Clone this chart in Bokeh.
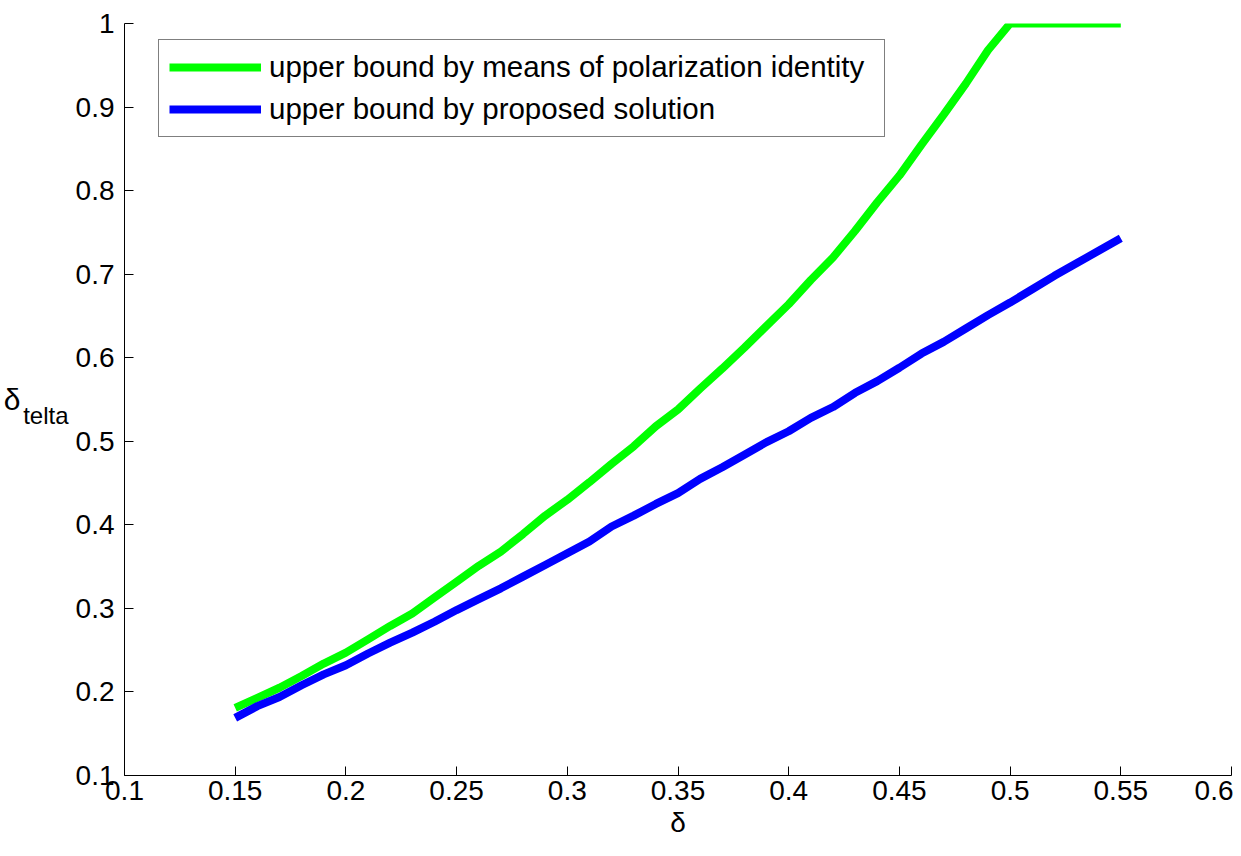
from bokeh.plotting import figure
from bokeh.models import FixedTicker, Range1d, Legend, LegendItem, LinearAxis
from bokeh.embed import file_html
from bokeh.resources import INLINE

delta = [0.15, 0.16, 0.17, 0.18, 0.19, 0.20, 0.21, 0.22, 0.23, 0.24, 0.25,
         0.26, 0.27, 0.28, 0.29, 0.30, 0.31, 0.32, 0.33, 0.34, 0.35, 0.36,
         0.37, 0.38, 0.39, 0.40, 0.41, 0.42, 0.43, 0.44, 0.45, 0.46, 0.47,
         0.48, 0.49, 0.50, 0.51, 0.52, 0.53, 0.54, 0.55]
polarization = [0.181, 0.193, 0.205, 0.219, 0.234, 0.247, 0.263, 0.279, 0.294, 0.313, 0.332,
                0.351, 0.368, 0.389, 0.411, 0.430, 0.451, 0.473, 0.494, 0.518, 0.538, 0.563,
                0.587, 0.612, 0.638, 0.664, 0.693, 0.720, 0.752, 0.786, 0.818, 0.855, 0.891,
                0.928, 0.968, 1.0, 1.0, 1.0, 1.0, 1.0, 1.0]
proposed = [0.169, 0.183, 0.194, 0.208, 0.221, 0.232, 0.246, 0.259, 0.271, 0.284, 0.298,
            0.311, 0.324, 0.338, 0.352, 0.366, 0.380, 0.398, 0.411, 0.425, 0.438, 0.455,
            0.469, 0.484, 0.499, 0.512, 0.528, 0.541, 0.558, 0.572, 0.588, 0.605, 0.619,
            0.635, 0.651, 0.666, 0.682, 0.698, 0.713, 0.728, 0.743]

x_ticks = [0.1, 0.15, 0.2, 0.25, 0.3, 0.35, 0.4, 0.45, 0.5, 0.55, 0.6]
x_tick_labels = ["0.1", "0.15", "0.2", "0.25", "0.3", "0.35", "0.4", "0.45", "0.5", "0.55", "0.6"]
y_ticks = [0.1, 0.2, 0.3, 0.4, 0.5, 0.6, 0.7, 0.8, 0.9, 1.0]
y_tick_labels = ["0.1", "0.2", "0.3", "0.4", "0.5", "0.6", "0.7", "0.8", "0.9", "1"]

series_names = ["upper bound by means of polarization identity", "upper bound by proposed solution"]
series_colors = ["#00ff00", "#0000ff"]

FONT = "Liberation Sans"
NB = "\u00a0"

p = figure(width=1233, height=840, output_backend="svg", toolbar_location=None,
           x_range=Range1d(0.1, 0.6), y_range=Range1d(0.1, 1.0),
           min_border_left=124, min_border_right=2, min_border_top=23, min_border_bottom=64)
p.outline_line_color = None
p.grid.visible = False
p.background_fill_color = "white"
p.border_fill_color = "white"

for ax, ticks, labels in [(p.xaxis[0], x_ticks, x_tick_labels), (p.yaxis[0], y_ticks, y_tick_labels)]:
    ax.ticker = FixedTicker(ticks=ticks)
    ax.major_label_overrides = {t: l for t, l in zip(ticks, labels)}
    ax.major_tick_in = 9
    ax.major_tick_out = 0
    ax.minor_tick_line_color = None
    ax.axis_line_color = "black"
    ax.major_tick_line_color = "black"
    ax.major_label_text_font = FONT
    ax.major_label_text_font_size = "28px"
    ax.major_label_text_color = "black"
    ax.axis_label_text_font = FONT
    ax.axis_label_text_font_style = "normal"
    ax.axis_label_text_color = "black"

p.xaxis.major_label_standoff = 5
p.xaxis.axis_label = "δ"
p.xaxis.axis_label_text_font_size = "28px"
p.xaxis.axis_label_standoff = 4

# y-axis title: δ with subscript "telta" (written horizontally)
p.yaxis.major_label_standoff = 10
p.yaxis.axis_label = NB + "\ntelta"
p.yaxis.axis_label_text_font_size = "24px"
p.yaxis.axis_label_standoff = 4
p.yaxis.axis_label_orientation = "horizontal"

yaxis2 = LinearAxis(ticker=FixedTicker(ticks=[]), axis_line_color=None,
                    major_tick_line_color=None, minor_tick_line_color=None,
                    major_label_text_font_size="0px",
                    axis_label="δ", axis_label_standoff=0,
                    axis_label_text_font=FONT, axis_label_text_font_size="30px",
                    axis_label_text_font_style="normal", axis_label_text_color="black",
                    axis_label_orientation="horizontal")
p.add_layout(yaxis2, "left")

r1 = p.line(delta, polarization, line_color=series_colors[0], line_width=8)
r2 = p.line(delta, proposed, line_color=series_colors[1], line_width=8)

legend = Legend(items=[LegendItem(label=series_names[0], renderers=[r1]),
                       LegendItem(label=series_names[1], renderers=[r2])],
                location=(34, 638))
legend.border_line_color = "black"
legend.border_line_width = 1.5
legend.label_text_font = FONT
legend.label_text_font_size = "29.5px"
legend.label_text_color = "black"
legend.glyph_width = 92
legend.glyph_height = 20
legend.label_standoff = 8
legend.label_width = 605
legend.padding = 10
legend.spacing = 8
legend.background_fill_alpha = 1.0
p.add_layout(legend, "center")

open("out.html", "w").write(file_html(p, INLINE))
